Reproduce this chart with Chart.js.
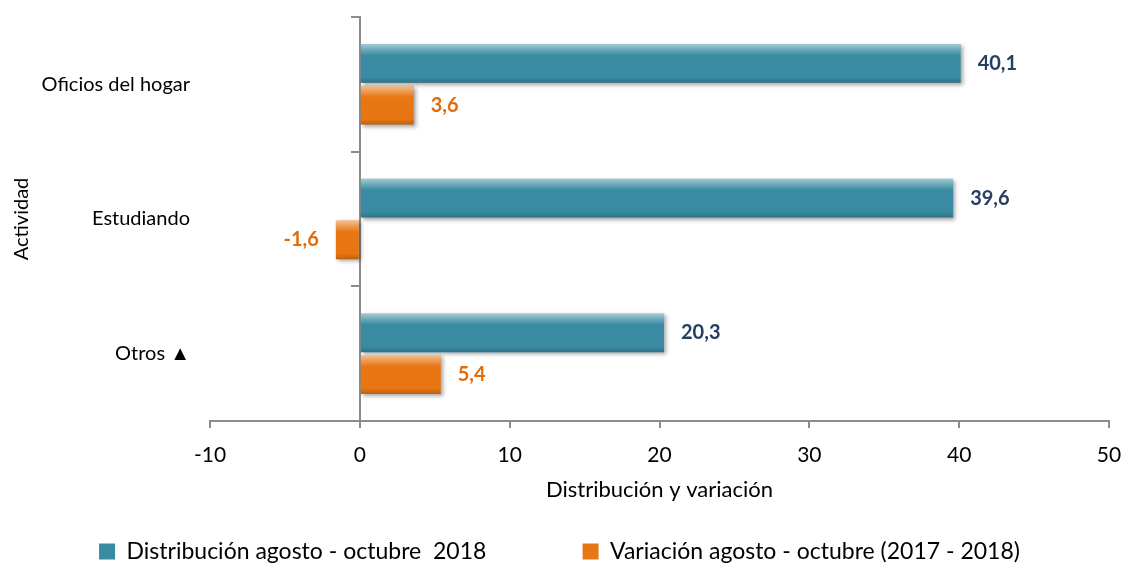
<!DOCTYPE html>
<html>
<head>
<meta charset="utf-8">
<script src="https://cdn.jsdelivr.net/npm/chart.js@4/dist/chart.umd.min.js"></script>
<style>
  body { margin: 0; background: #fff; }
  #caja { width: 1124px; height: 573px; }
</style>
</head>
<body>
<div id="caja"><canvas id="lienzo"></canvas></div>
<script>
// Datos del gráfico
const categorias = ['Oficios del hogar', 'Estudiando', 'Otros \u25B2'];
const distribucion = [40.1, 39.6, 20.3];
const variacion = [3.6, -1.6, 5.4];
const etiquetasSeries = ['Distribución agosto - octubre  2018', 'Variación agosto - octubre (2017 - 2018)'];

const fuente = 'Lato, "Liberation Sans", sans-serif';
const azul = '#398BA3';
const naranja = '#E87612';

// Formato con coma decimal
function coma(v) {
  return v.toFixed(1).replace('.', ',');
}

// Sombra suave bajo las barras
const sombra = {
  id: 'sombra',
  beforeDatasetsDraw(chart) {
    const c = chart.ctx;
    c.save();
    c.shadowColor = 'rgba(0,0,0,0.35)';
    c.shadowBlur = 4;
    c.shadowOffsetX = 2;
    c.shadowOffsetY = 2;
  },
  afterDatasetsDraw(chart) {
    chart.ctx.restore();
  }
};

// Brillo de relieve y etiquetas de valor
const relieve = {
  id: 'relieve',
  afterDatasetsDraw(chart) {
    const c = chart.ctx;
    chart.data.datasets.forEach((ds, di) => {
      const meta = chart.getDatasetMeta(di);
      meta.data.forEach((bar, i) => {
        const p = bar.getProps(['x', 'y', 'base', 'height'], true);
        const izq = Math.min(p.x, p.base);
        const ancho = Math.abs(p.x - p.base);
        const arriba = p.y - p.height / 2;
        const g = c.createLinearGradient(0, arriba, 0, arriba + p.height);
        g.addColorStop(0, 'rgba(255,255,255,0.55)');
        g.addColorStop(0.15, 'rgba(255,255,255,0.25)');
        g.addColorStop(0.3, 'rgba(255,255,255,0)');
        g.addColorStop(0.85, 'rgba(0,0,0,0)');
        g.addColorStop(1, 'rgba(0,0,0,0.18)');
        c.fillStyle = g;
        c.fillRect(izq, arriba, ancho, p.height);

        const v = ds.data[i];
        c.save();
        c.font = 'bold 20px ' + fuente;
        c.fillStyle = ds.colorEtiqueta;
        c.textBaseline = 'middle';
        if (v >= 0) {
          c.textAlign = 'left';
          c.fillText(coma(v), p.x + 17, p.y);
        } else {
          c.textAlign = 'right';
          c.fillText(coma(v), p.x - 17, p.y);
        }
        c.restore();
      });
    });
  }
};

const ctx = document.getElementById('lienzo').getContext('2d');

const myChart = new Chart(ctx, {
  type: 'bar',
  data: {
    labels: categorias,
    datasets: [{
      label: etiquetasSeries[0],
      data: distribucion,
      backgroundColor: azul,
      colorEtiqueta: '#243F60',
      categoryPercentage: 0.62,
      barPercentage: 0.93
    }, {
      label: etiquetasSeries[1],
      data: variacion,
      backgroundColor: naranja,
      colorEtiqueta: '#E36C09',
      categoryPercentage: 0.62,
      barPercentage: 0.93
    }]
  },
  options: {
    indexAxis: 'y',
    responsive: true,
    maintainAspectRatio: false,
    animation: false,
    layout: { padding: { left: 10, right: 15, top: 17, bottom: 0 } },
    scales: {
      x: {
        min: -10,
        max: 50,
        ticks: { stepSize: 10, color: '#000', padding: 15, font: { family: fuente, size: 21 } },
        grid: { drawOnChartArea: false, drawTicks: true, tickLength: 7, color: '#8c8c8c', lineWidth: 2 },
        border: { color: '#8c8c8c', width: 2 },
        title: {
          display: true,
          text: 'Distribución y variación',
          color: '#000',
          font: { family: fuente, size: 22 },
          padding: { top: 0, bottom: 27 }
        },
        afterFit(scale) {
          scale.height = 109;
          scale.paddingLeft = 0;
          scale.paddingRight = 12;
        }
      },
      y: {
        position: 'left',
        ticks: { color: '#000', padding: 12, font: { family: fuente, size: 20 } },
        grid: { display: false },
        border: { display: false },
        title: {
          display: true,
          text: 'Actividad',
          color: '#000',
          font: { family: fuente, size: 20 },
          padding: { top: 0, bottom: 0 }
        },
        afterFit(scale) {
          scale.width = 200;
          scale.paddingTop = 0;
          scale.paddingBottom = 0;
        }
      },
      // eje vertical que cruza en cero
      eje0: {
        type: 'category',
        axis: 'y',
        position: { x: 0 },
        offset: true,
        ticks: { display: false },
        grid: { offset: true, drawOnChartArea: false, drawTicks: true, tickLength: 8, color: '#8c8c8c', lineWidth: 2 },
        border: { color: '#8c8c8c', width: 2 }
      }
    },
    plugins: {
      legend: {
        position: 'bottom',
        labels: {
          color: '#000',
          boxWidth: 16,
          boxHeight: 16,
          padding: 10,
          font: { family: fuente, size: 23 },
          generateLabels(chart) {
            return chart.data.datasets.map((ds, i) => ({
              text: ds.label + (i === 0 ? '\u2003\u2003\u2003\u2003\u2003' : ''),
              fillStyle: ds.backgroundColor,
              strokeStyle: ds.backgroundColor,
              lineWidth: 0,
              datasetIndex: i
            }));
          }
        }
      },
      tooltip: { enabled: false }
    }
  },
  plugins: [sombra, relieve]
});
</script>
</body>
</html>
